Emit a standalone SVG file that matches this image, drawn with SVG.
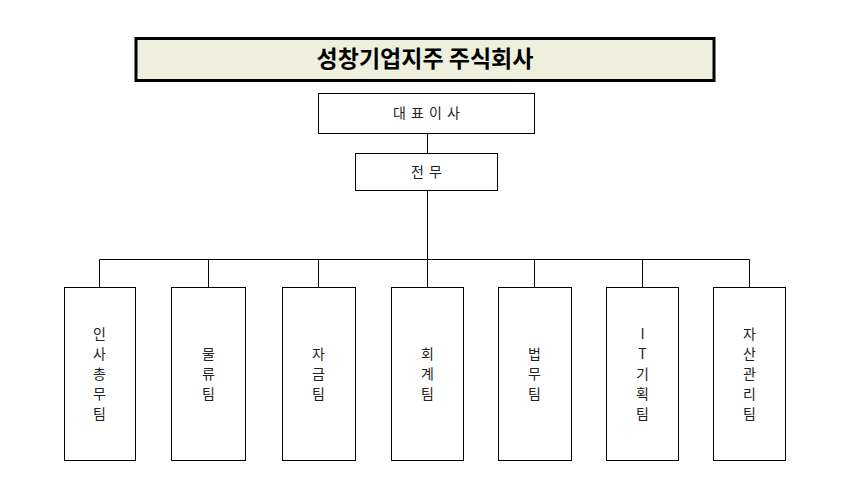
<svg xmlns="http://www.w3.org/2000/svg" width="852" height="495" viewBox="0 0 852 495">
<style>
.b{fill:#fff;stroke:#000;stroke-width:1}
.t{font-family:"Noto Sans CJK KR","Liberation Sans",sans-serif;font-size:14px;text-anchor:middle;fill:#222}
.c{stroke:#000;stroke-width:1;fill:none}
</style>
<rect width="852" height="495" fill="#fff"/>
<g id="title"><rect x="136" y="38.5" width="578" height="42" fill="#eef0dd" stroke="#000" stroke-width="3"/>
<text x="425" y="67" class="t" style="font-size:23px;font-weight:bold;fill:#000">성창기업지주 주식회사</text></g>
<g id="ceo"><rect class="b" x="318.5" y="93.5" width="216" height="40"/><text class="t" x="427" y="118" letter-spacing="1">대 표 이 사</text></g>
<g id="exec"><rect class="b" x="355.5" y="153.5" width="142" height="37"/><text class="t" x="427" y="177" letter-spacing="1">전 무</text></g>
<g id="connectors">
<path class="c" d="M427.5 133.5V153.5M427.5 190.5V259.5M99.5 259.5H749.5M99.5 259.5V287.5M208.5 259.5V287.5M318.5 259.5V287.5M427.5 259.5V287.5M534.5 259.5V287.5M642.5 259.5V287.5M749.5 259.5V287.5"/>
</g>
<g id="n1"><rect class="b" x="64.5" y="287.5" width="71" height="173"/><text class="t" x="99.5"><tspan x="99.5" y="339">인</tspan><tspan x="99.5" y="359">사</tspan><tspan x="99.5" y="379">총</tspan><tspan x="99.5" y="399">무</tspan><tspan x="99.5" y="419">팀</tspan></text></g>
<g id="n2"><rect class="b" x="171.5" y="287.5" width="74" height="173"/><text class="t"><tspan x="208.5" y="359">물</tspan><tspan x="208.5" y="379">류</tspan><tspan x="208.5" y="399">팀</tspan></text></g>
<g id="n3"><rect class="b" x="282.5" y="287.5" width="73" height="173"/><text class="t"><tspan x="318.5" y="359">자</tspan><tspan x="318.5" y="379">금</tspan><tspan x="318.5" y="399">팀</tspan></text></g>
<g id="n4"><rect class="b" x="391.5" y="287.5" width="72" height="173"/><text class="t"><tspan x="427.5" y="359">회</tspan><tspan x="427.5" y="379">계</tspan><tspan x="427.5" y="399">팀</tspan></text></g>
<g id="n5"><rect class="b" x="498.5" y="287.5" width="73" height="173"/><text class="t"><tspan x="534.5" y="359">법</tspan><tspan x="534.5" y="379">무</tspan><tspan x="534.5" y="399">팀</tspan></text></g>
<g id="n6"><rect class="b" x="606.5" y="287.5" width="72" height="173"/><text class="t"><tspan x="642.5" y="339">I</tspan><tspan x="642.5" y="359">T</tspan><tspan x="642.5" y="379">기</tspan><tspan x="642.5" y="399">획</tspan><tspan x="642.5" y="419">팀</tspan></text></g>
<g id="n7"><rect class="b" x="713.5" y="287.5" width="72" height="173"/><text class="t"><tspan x="749.5" y="339">자</tspan><tspan x="749.5" y="359">산</tspan><tspan x="749.5" y="379">관</tspan><tspan x="749.5" y="399">리</tspan><tspan x="749.5" y="419">팀</tspan></text></g>
</svg>
